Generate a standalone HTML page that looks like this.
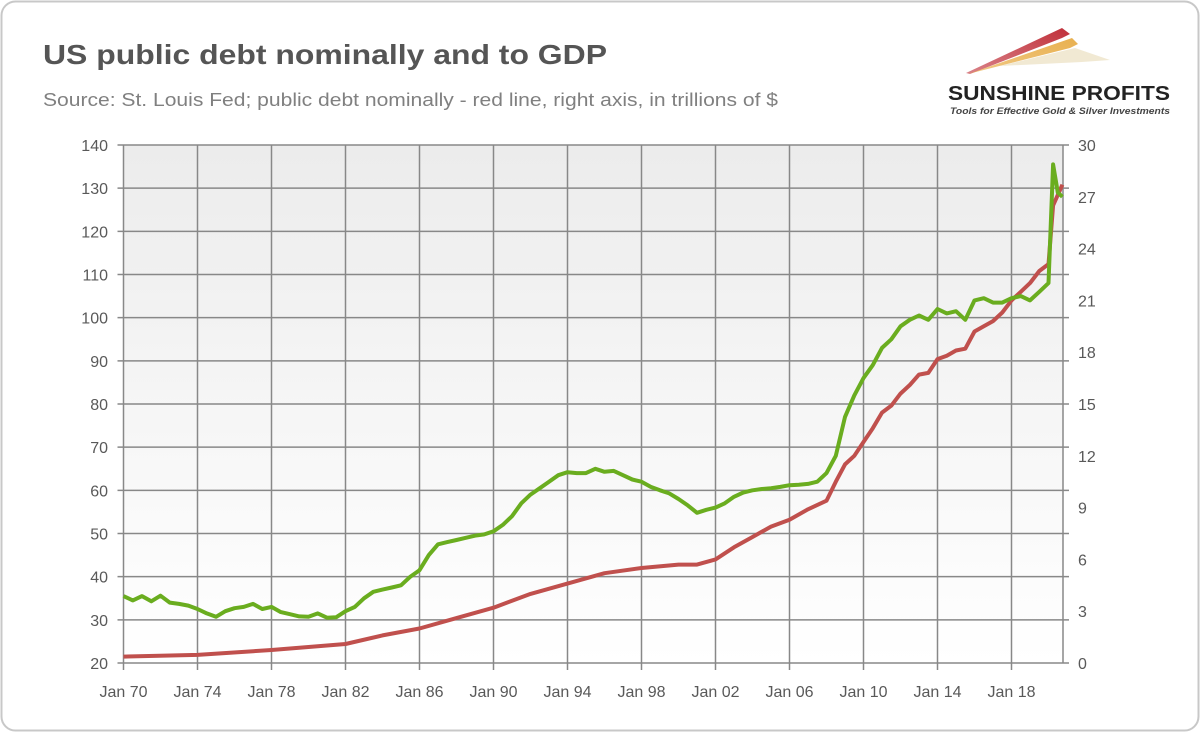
<!DOCTYPE html>
<html><head><meta charset="utf-8"><style>
html,body{margin:0;padding:0;background:#fff;}
svg{display:block;font-family:"Liberation Sans",sans-serif;}
</style></head><body>
<svg id="chart" width="1200" height="732" viewBox="0 0 1200 732">
<defs>
<linearGradient id="bg" x1="0" y1="0" x2="0" y2="1"><stop offset="0" stop-color="#ececec"/><stop offset="1" stop-color="#ffffff"/></linearGradient>
<linearGradient id="s1" x1="0" y1="1" x2="1" y2="0"><stop offset="0" stop-color="#c0303a" stop-opacity="0.6"/><stop offset="1" stop-color="#c0303a"/></linearGradient>
<linearGradient id="s2" x1="0" y1="1" x2="1" y2="0"><stop offset="0" stop-color="#e8a83a" stop-opacity="0.6"/><stop offset="1" stop-color="#e8b050"/></linearGradient>
</defs>
<rect x="1.5" y="1.5" width="1197" height="729" rx="14" fill="#fff" stroke="#c8c8c8" stroke-width="2"/>
<text x="43" y="64" font-size="28" font-weight="bold" fill="#555" textLength="564" lengthAdjust="spacingAndGlyphs">US public debt nominally and to GDP</text>
<text x="43" y="106" font-size="18" fill="#808080" textLength="735" lengthAdjust="spacingAndGlyphs">Source: St. Louis Fed; public debt nominally - red line, right axis, in trillions of $</text>
<g>
<polygon points="966,73 1062,28 1070,34 1062,38 970,74" fill="url(#s1)"/>
<polygon points="968,74 1072,38 1078,44 1070,48" fill="url(#s2)"/>
<polygon points="1000,66 1075,48 1110,60 1082,62" fill="#eee3c8" opacity="0.8"/>
<text x="948" y="100" font-size="20" font-weight="bold" fill="#222" textLength="222" lengthAdjust="spacingAndGlyphs">SUNSHINE PROFITS</text>
<text x="950" y="114" font-size="9" font-style="italic" font-weight="bold" fill="#444" textLength="220" lengthAdjust="spacingAndGlyphs">Tools for Effective Gold &amp; Silver Investments</text>
</g>
<rect x="123.5" y="145" width="939.5" height="518" fill="url(#bg)"/>
<g id="grid"></g>
<g id="axes"></g>
<g id="series"></g>
</svg>
<script>
const leftTicks=[20,30,40,50,60,70,80,90,100,110,120,130,140];
const rightTicks=[0,3,6,9,12,15,18,21,24,27,30];
const xTickYears=[1970,1974,1978,1982,1986,1990,1994,1998,2002,2006,2010,2014,2018];
const xTickLabels=["Jan 70","Jan 74","Jan 78","Jan 82","Jan 86","Jan 90","Jan 94","Jan 98","Jan 02","Jan 06","Jan 10","Jan 14","Jan 18"];
const gdpYears=[1970,1970.5,1971,1971.5,1972,1972.5,1973,1973.5,1974,1974.5,1975,1975.5,1976,1976.5,1977,1977.5,1978,1978.5,1979,1979.5,1980,1980.5,1981,1981.5,1982,1982.5,1983,1983.5,1984,1984.5,1985,1985.5,1986,1986.5,1987,1987.5,1988,1988.5,1989,1989.5,1990,1990.5,1991,1991.5,1992,1992.5,1993,1993.5,1994,1994.5,1995,1995.5,1996,1996.5,1997,1997.5,1998,1998.5,1999,1999.5,2000,2000.5,2001,2001.5,2002,2002.5,2003,2003.5,2004,2004.5,2005,2005.5,2006,2006.5,2007,2007.5,2008,2008.5,2009,2009.5,2010,2010.5,2011,2011.5,2012,2012.5,2013,2013.5,2014,2014.5,2015,2015.5,2016,2016.5,2017,2017.5,2018,2018.5,2019,2019.5,2020,2020.25,2020.5,2020.75];
const gdpValues=[35.5,34.5,35.5,34.3,35.6,34,33.7,33.3,32.5,31.5,30.7,32,32.7,33,33.7,32.5,33,31.8,31.3,30.8,30.7,31.5,30.5,30.6,32,33,35,36.5,37,37.5,38,40,41.5,45,47.5,48,48.5,49,49.5,49.8,50.5,52,54,57,59,60.5,62,63.5,64.2,64,64,65,64.3,64.5,63.5,62.5,62,60.8,60,59.3,58,56.5,54.8,55.5,56,57,58.5,59.5,60,60.3,60.5,60.8,61.2,61.3,61.5,62,64,68,77,82,86,89,93,95,98,99.5,100.5,99.5,102,101,101.5,99.5,104,104.5,103.5,103.5,104.5,105,104,106,108,135.5,129,128];
const debtYears=[1970,1974,1978,1982,1984,1986,1988,1990,1992,1994,1996,1998,2000,2001,2002,2003,2004,2005,2006,2007,2008,2008.5,2009,2009.5,2010,2010.5,2011,2011.5,2012,2012.5,2013,2013.5,2014,2014.5,2015,2015.5,2016,2016.5,2017,2017.5,2018,2018.5,2019,2019.5,2020,2020.25,2020.75];
const debtValues=[0.37,0.47,0.75,1.1,1.6,2.0,2.6,3.2,4.0,4.6,5.2,5.5,5.7,5.7,6.0,6.7,7.3,7.9,8.3,8.9,9.4,10.5,11.5,12.0,12.8,13.6,14.5,14.9,15.6,16.1,16.7,16.8,17.6,17.8,18.1,18.2,19.2,19.5,19.8,20.3,21.0,21.5,22.0,22.7,23.1,26.5,27.7];

const NS="http://www.w3.org/2000/svg";
const X0=123.5,X1=1063,Y0=663,Y1=145;
const xScale=y=>X0+(y-1970)*18.5;
const yLeft=v=>Y0-(v-20)*(Y0-Y1)/120;
const yRight=v=>Y0-v*(Y0-Y1)/30;
function mk(tag,parent){const e=document.createElementNS(NS,tag);parent.appendChild(e);return e;}
const grid=document.getElementById('grid'),axes=document.getElementById('axes'),series=document.getElementById('series');
leftTicks.forEach((t,i)=>{
 const l=mk('line',grid);l.setAttribute('x1',X0-6);l.setAttribute('x2',X1+6);l.setAttribute('y1',yLeft(t));l.setAttribute('y2',yLeft(t));l.setAttribute('stroke','#888');l.setAttribute('stroke-width','1.5');
 
 
 const tx=mk('text',axes);tx.setAttribute('x',108);tx.setAttribute('y',yLeft(t)+6);tx.setAttribute('text-anchor','end');tx.setAttribute('font-size','16');tx.setAttribute('fill','#595959');tx.textContent=t;
 
 
});
rightTicks.forEach(t=>{
 const tx=mk('text',axes);tx.setAttribute('x',1078);tx.setAttribute('y',yRight(t)+6);tx.setAttribute('font-size','16');tx.setAttribute('fill','#595959');tx.textContent=t;
 
 
});
xTickYears.forEach((yr,i)=>{
 const x=xScale(yr);
 const l=mk('line',grid);l.setAttribute('x1',x);l.setAttribute('x2',x);l.setAttribute('y1',Y1);l.setAttribute('y2',Y0+7);l.setAttribute('stroke','#888');l.setAttribute('stroke-width','1.5');
 
 
 const tx=mk('text',axes);tx.setAttribute('x',x);tx.setAttribute('y',697);tx.setAttribute('text-anchor','middle');tx.setAttribute('font-size','16');tx.setAttribute('fill','#595959');tx.textContent=xTickLabels[i];
 
 
});
const r=mk('line',grid);r.setAttribute('x1',X1);r.setAttribute('x2',X1);r.setAttribute('y1',Y1);r.setAttribute('y2',Y0);r.setAttribute('stroke','#888');r.setAttribute('stroke-width','1.5');


function path(xs,ys,ysc,color,name){
 const p=mk('path',series);
 p.setAttribute('d',xs.map((x,i)=>(i?'L':'M')+xScale(x).toFixed(1)+','+ysc(ys[i]).toFixed(1)).join(''));
 p.setAttribute('fill','none');p.setAttribute('stroke',color);p.setAttribute('stroke-width','4');p.setAttribute('stroke-linejoin','round');
 
 
}
path(debtYears,debtValues,yRight,'#c0504d','debt-nominal-line');
path(gdpYears,gdpValues,yLeft,'#6aad1f','debt-to-gdp-line');
</script>
</body></html>
